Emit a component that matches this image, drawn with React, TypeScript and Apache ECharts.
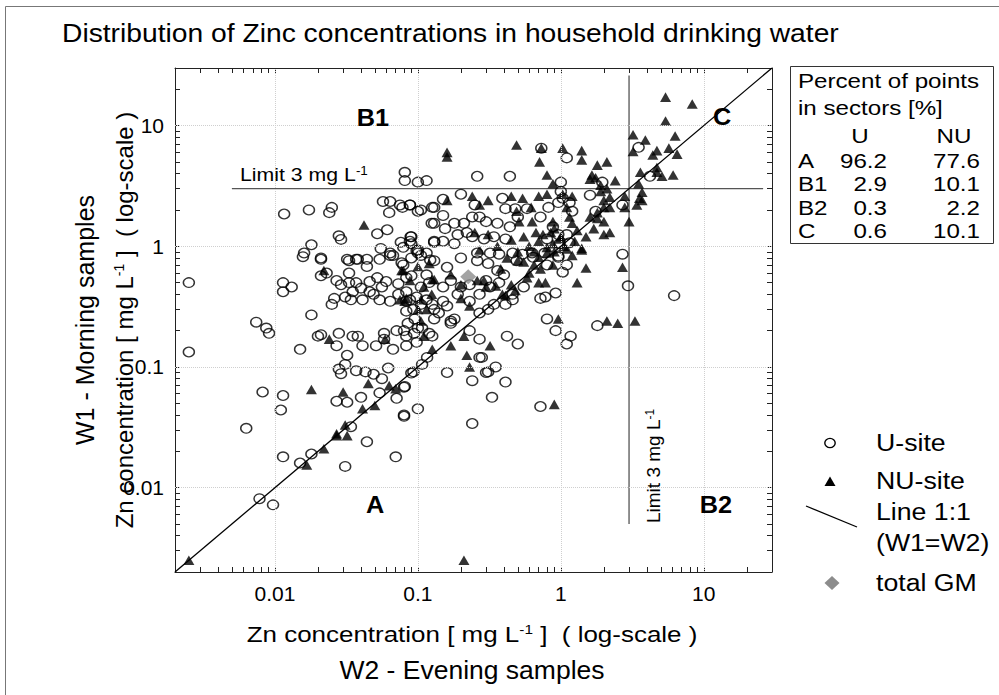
import React, { useEffect, useRef } from 'react';
import * as echarts from 'echarts';

const FONT = '"Liberation Sans", Arial, sans-serif';

const AXIS_MIN = 0.002;
const AXIS_MAX = 30;
const decadeLabels = [0.01, 0.1, 1, 10];
const tickValues = [
  0.002, 0.003, 0.004, 0.005, 0.006, 0.007, 0.008, 0.009,
  0.01, 0.02, 0.03, 0.04, 0.05, 0.06, 0.07, 0.08, 0.09,
  0.1, 0.2, 0.3, 0.4, 0.5, 0.6, 0.7, 0.8, 0.9,
  1, 2, 3, 4, 5, 6, 7, 8, 9,
  10, 20, 30,
];
const limitValue = 3;
const limitSpan = [0.005, 26];
const oneToOne = [0.002, 30];
const gmPoint: [number, number] = [0.225, 0.56];

const sectorNames = ['A', 'B1', 'B2', 'C'];
const pctU = ['96.2', '2.9', '0.3', '0.6'];
const pctNU = ['77.6', '10.1', '2.2', '10.1'];

const uSite: [number, number][] = [
  [0.0025, 0.5], [0.0025, 0.133],
  [0.081, 4.1], [0.081, 3.5], [0.1, 3.4], [0.115, 3.5],
  [0.0116, 1.85], [0.0173, 2.0], [0.025, 2.1], [0.024, 1.9],
  [0.057, 2.35], [0.064, 2.35], [0.063, 1.9], [0.078, 2.1], [0.088, 2.2], [0.1, 1.95], [0.126, 2.1], [0.125, 1.55],
  [0.052, 1.27], [0.061, 1.37], [0.028, 1.22], [0.029, 1.14], [0.076, 1.08], [0.089, 1.2], [0.09, 1.05], [0.13, 1.08],
  [0.055, 0.96], [0.064, 0.88], [0.067, 0.84], [0.1, 0.93], [0.018, 1.03], [0.016, 0.88], [0.021, 0.8], [0.032, 0.78], [0.037, 0.78], [0.044, 0.78],
  [0.0157, 0.82], [0.021, 0.78], [0.021, 0.57], [0.023, 0.6],
  [0.0114, 0.5], [0.0131, 0.46], [0.0114, 0.42],
  [0.0074, 0.235], [0.0087, 0.21], [0.0091, 0.19],
  [0.018, 0.27], [0.015, 0.14], [0.02, 0.18], [0.021, 0.185], [0.028, 0.19], [0.027, 0.15], [0.032, 0.125],
  [0.031, 0.105], [0.028, 0.096], [0.029, 0.088], [0.037, 0.093], [0.043, 0.091], [0.049, 0.087], [0.062, 0.098], [0.056, 0.08],
  [0.0082, 0.062], [0.0114, 0.058], [0.011, 0.044], [0.027, 0.052], [0.032, 0.051], [0.04, 0.056], [0.054, 0.061], [0.071, 0.055], [0.081, 0.069], [0.08, 0.04], [0.1, 0.045],
  [0.0063, 0.031], [0.034, 0.032], [0.044, 0.024], [0.093, 0.091], [0.107, 0.105], [0.116, 0.12],
  [0.033, 0.76], [0.038, 0.78], [0.044, 0.68], [0.054, 0.78], [0.064, 0.84], [0.077, 0.73], [0.09, 0.8], [0.098, 0.92], [0.122, 0.77],
  [0.027, 0.52], [0.029, 0.48], [0.033, 0.5], [0.037, 0.5], [0.046, 0.51], [0.052, 0.55], [0.06, 0.51], [0.073, 0.49], [0.083, 0.55],
  [0.033, 0.6], [0.026, 0.37], [0.025, 0.33], [0.031, 0.38], [0.034, 0.36], [0.041, 0.36], [0.049, 0.4], [0.056, 0.46], [0.054, 0.36],
  [0.064, 0.35], [0.073, 0.4], [0.083, 0.35], [0.098, 0.38], [0.115, 0.36], [0.126, 0.33],
  [0.035, 0.42], [0.04, 0.45], [0.046, 0.42], [0.035, 0.18], [0.041, 0.15], [0.051, 0.15], [0.058, 0.17], [0.058, 0.19], [0.071, 0.2],
  [0.083, 0.18], [0.098, 0.16], [0.083, 0.15], [0.067, 0.14], [0.093, 0.3], [0.107, 0.21], [0.126, 0.18], [0.038, 0.18],
  [0.0078, 0.0081], [0.0097, 0.0072], [0.0114, 0.018], [0.015, 0.016], [0.018, 0.019], [0.031, 0.015], [0.07, 0.018],
  [0.24, 0.077], [0.24, 0.034], [0.31, 0.091], [0.35, 0.1], [0.28, 0.12], [0.16, 0.09], [0.08, 0.039], [0.08, 0.068], [0.09, 0.089],
  [0.33, 0.056], [0.41, 0.075],
  [0.27, 0.12], [0.3, 0.09], [0.27, 0.17], [0.23, 0.2], [0.17, 0.24], [0.18, 0.25], [0.14, 0.28],
  [2.7, 0.86], [2.95, 0.47], [6.2, 0.39], [1.8, 0.22], [0.92, 0.41], [0.72, 0.37], [0.78, 0.38], [0.8, 0.25], [0.92, 0.2],
  [1.17, 0.18], [1.1, 0.155], [0.42, 0.18], [0.5, 0.155], [0.72, 0.047],
  [0.079, 0.7], [0.09, 0.57], [0.115, 0.58], [0.12, 0.5], [0.105, 0.46], [0.083, 0.42], [0.088, 0.36], [0.105, 0.33], [0.13, 0.3],
  [0.083, 0.29], [0.095, 0.25], [0.085, 0.23], [0.15, 0.35], [0.16, 0.32], [0.17, 0.52], [0.15, 0.46], [0.2, 0.46], [0.23, 0.48],
  [0.19, 0.4], [0.23, 0.35], [0.27, 0.4], [0.32, 0.46], [0.3, 0.52], [0.37, 0.5], [0.4, 0.58], [0.36, 0.63], [0.31, 0.72],
  [0.26, 0.76], [0.2, 0.8], [0.16, 0.67], [0.13, 0.76], [0.105, 0.84], [0.49, 0.76], [0.64, 0.81], [0.8, 0.7], [0.96, 0.81],
  [1.1, 0.7], [1.03, 0.61], [0.46, 0.36], [0.41, 0.33], [0.46, 0.4], [0.55, 0.46], [0.31, 0.3], [0.27, 0.28], [0.34, 0.33],
  [0.13, 0.25], [0.17, 0.23], [0.1, 0.21], [0.094, 0.19], [0.08, 0.2], [0.12, 0.19],
  [0.15, 2.45], [0.075, 2.2], [0.088, 2.2], [0.105, 2.0], [0.13, 2.1], [0.15, 1.8], [0.13, 1.55], [0.155, 1.4], [0.18, 1.55],
  [0.21, 1.55], [0.22, 1.3], [0.19, 1.25], [0.24, 1.75], [0.27, 1.75], [0.25, 2.2], [0.3, 1.6], [0.36, 1.55], [0.39, 2.5],
  [0.41, 2.05], [0.48, 2.05], [0.5, 1.75], [0.58, 2.05], [0.72, 1.75], [0.82, 2.1], [0.96, 2.3], [1.03, 2.5], [1.15, 2.3],
  [1.2, 1.95], [0.88, 1.45], [0.8, 1.15], [0.96, 1.25], [1.1, 1.25], [1.15, 1.07], [0.98, 1.05], [0.44, 1.45], [0.41, 1.15],
  [0.34, 1.2], [0.29, 1.15], [0.24, 1.2], [0.18, 1.05], [0.15, 1.1], [0.13, 1.1], [0.115, 0.88], [0.1, 0.88], [0.088, 1.1],
  [0.09, 1.2], [0.079, 0.98], [0.26, 0.88], [0.32, 0.88], [0.37, 0.86], [0.46, 0.88], [0.54, 0.86], [0.63, 0.88], [0.77, 0.88],
  [0.96, 0.83],
  [0.26, 3.8], [0.44, 3.8], [0.2, 2.7], [1.6, 2.65], [1.0, 2.85], [1.75, 1.95], [3.5, 6.6], [4.2, 3.8], [0.73, 6.5], [1.1, 5.4],
  [1.0, 3.4], [1.95, 3.4], [2.7, 2.2],
];

const nuSite: [number, number][] = [
  [0.16, 6.0], [0.16, 5.5], [0.49, 6.9], [0.73, 6.5], [1.03, 6.5], [1.4, 6.2], [1.4, 5.2], [0.71, 5.0], [1.8, 4.7], [2.1, 5.0],
  [1.65, 3.9], [1.6, 3.6], [1.75, 3.7], [2.4, 3.5], [2.1, 3.0], [1.9, 3.2], [0.8, 3.9], [0.88, 3.3],
  [5.4, 17.2], [8.3, 15.1], [5.4, 10.9], [6.3, 8.2], [3.2, 8.4], [3.9, 7.6], [3.2, 6.1], [4.7, 6.2], [4.4, 5.7], [5.7, 6.5],
  [6.5, 5.8], [4.7, 4.5], [5.1, 3.8], [6.1, 3.9], [4.7, 4.1], [3.6, 4.1], [3.5, 3.3],
  [3.7, 2.8], [3.55, 2.5], [3.7, 2.4], [3.4, 2.2], [3.0, 1.6], [2.8, 2.6], [2.8, 2.1],
  [0.042, 1.5],
  [0.16, 2.4], [0.24, 2.6], [0.27, 2.2], [0.31, 2.4], [0.45, 2.6], [0.54, 2.5], [0.62, 2.1], [0.7, 2.6], [0.8, 2.7], [1.03, 2.7],
  [1.2, 2.6], [1.9, 2.85], [2.0, 2.4], [2.2, 2.55], [2.0, 2.1], [2.2, 2.1], [1.8, 1.9], [1.6, 1.75], [1.8, 1.7], [2.0, 1.6],
  [2.0, 1.25], [2.2, 1.3], [1.4, 0.96],
  [0.49, 1.95], [0.51, 1.6], [0.63, 1.6], [0.67, 1.3], [0.88, 1.6], [0.9, 1.4], [1.1, 2.1], [1.15, 1.75], [1.2, 1.55],
  [0.98, 1.15], [1.05, 1.0], [0.88, 1.05], [0.8, 0.98], [0.45, 1.13], [0.36, 1.0], [0.31, 1.25], [0.27, 0.93], [0.25, 1.3],
  [0.55, 1.2], [0.6, 1.0], [0.65, 0.9], [0.7, 1.1], [0.75, 1.25], [0.85, 1.3], [0.6, 0.6], [0.65, 0.7], [0.72, 0.65],
  [0.9, 0.9], [1.0, 1.2], [1.1, 0.95], [1.25, 1.1], [1.3, 1.35], [0.5, 0.9], [0.42, 0.8], [0.38, 0.65], [0.58, 0.55],
  [1.5, 1.2], [1.7, 1.4],
  [2.7, 0.67], [1.3, 0.5], [1.5, 0.66], [0.7, 0.5], [0.78, 0.5], [0.96, 0.25], [2.1, 0.24], [2.5, 0.23], [3.3, 0.24],
  [0.9, 0.049], [0.21, 0.0025],
  [0.22, 0.125], [0.23, 0.1], [0.17, 0.15], [0.21, 0.18], [0.32, 0.15],
  [0.1, 0.68], [0.12, 0.72], [0.17, 0.58], [0.13, 0.53], [0.2, 0.48], [0.2, 0.37], [0.23, 0.32], [0.26, 0.52], [0.29, 0.52],
  [0.3, 0.46], [0.35, 0.47], [0.39, 0.4], [0.45, 0.48], [0.48, 0.43], [0.41, 0.39], [0.5, 0.76], [0.55, 0.74], [0.7, 0.81],
  [0.8, 0.88], [0.88, 0.7], [1.2, 0.84], [1.4, 0.93], [0.083, 0.37], [0.105, 0.36], [0.115, 0.3], [0.105, 0.24], [0.075, 0.36],
  [0.079, 0.63],
  [0.022, 0.63], [0.024, 0.17], [0.018, 0.065], [0.03, 0.062], [0.045, 0.073], [0.063, 0.07], [0.041, 0.045], [0.031, 0.033],
  [0.027, 0.028], [0.032, 0.027], [0.022, 0.021], [0.077, 0.63], [0.05, 0.048], [0.07, 0.066],
  [0.081, 0.35], [0.088, 0.52], [0.1, 0.3], [0.11, 0.46], [0.125, 0.4], [0.11, 0.18], [0.126, 0.53], [0.059, 0.17], [0.126, 0.14],
  [0.0025, 0.0025], [0.0167, 0.0154], [0.027, 0.027],
];

function txt(x: number, y: number, text: string, o: any = {}) {
  return {
    type: 'text',
    x,
    y,
    rotation: o.rotation || 0,
    scaleX: o.scaleX || 1,
    z: 10,
    style: {
      text,
      fontFamily: FONT,
      fontSize: o.fontSize || 22,
      fontWeight: o.fontWeight || 'normal',
      fill: '#000',
      align: o.align || 'left',
      verticalAlign: 'middle',
      rich: o.rich,
    },
  };
}

export default function App() {
  const ref = useRef<HTMLDivElement>(null);

  useEffect(() => {
    if (!ref.current) return;
    const chart = echarts.init(ref.current, null, { renderer: 'svg' });

    const supRich = (size: number) => ({
      sup: { fontSize: size, fontFamily: FONT, verticalAlign: 'top', fill: '#000' },
    });

    const axisCommon = {
      type: 'log',
      logBase: 10,
      min: AXIS_MIN,
      max: AXIS_MAX,
      axisLine: { show: true, onZero: false, lineStyle: { color: '#222', width: 1 } },
      axisTick: { show: true, inside: true, length: 5, customValues: tickValues, lineStyle: { color: '#222', width: 1 } },
      splitLine: { show: false },
      minorTick: { show: false },
    };

    const tableGraphics: any[] = [
      {
        type: 'rect',
        shape: { x: 790.5, y: 66.5, width: 203, height: 177 },
        style: { fill: '#fff', stroke: '#333', lineWidth: 1 },
        z: 9,
      },
      txt(798, 81, 'Percent of points', { fontSize: 21, scaleX: 1.15 }),
      txt(798, 108, 'in sectors [%]', { fontSize: 21, scaleX: 1.15 }),
      txt(860, 136, 'U', { fontSize: 21, scaleX: 1.15, align: 'center' }),
      txt(954, 136, 'NU', { fontSize: 21, scaleX: 1.15, align: 'center' }),
    ];
    sectorNames.forEach((name, i) => {
      const y = 161 + i * 23.5;
      tableGraphics.push(txt(798, y, name, { fontSize: 21, scaleX: 1.15 }));
      tableGraphics.push(txt(887, y, pctU[i], { fontSize: 21, scaleX: 1.15, align: 'right' }));
      tableGraphics.push(txt(980, y, pctNU[i], { fontSize: 21, scaleX: 1.15, align: 'right' }));
    });

    const legendGraphics: any[] = [
      { type: 'ellipse', shape: { cx: 830, cy: 443, rx: 5.2, ry: 4.6 }, style: { fill: 'none', stroke: '#000', lineWidth: 1.4 }, z: 10 },
      txt(876, 443, 'U-site', { fontSize: 23, scaleX: 1.16 }),
      { type: 'polygon', shape: { points: [[830, 476.5], [824.5, 486], [835.5, 486]] }, style: { fill: '#000' }, z: 10 },
      txt(876, 481, 'NU-site', { fontSize: 23, scaleX: 1.16 }),
      { type: 'line', shape: { x1: 806, y1: 506, x2: 857, y2: 527 }, style: { stroke: '#000', lineWidth: 1.3 }, z: 10 },
      txt(876, 512, 'Line 1:1', { fontSize: 23, scaleX: 1.16 }),
      txt(876, 543, '(W1=W2)', { fontSize: 23, scaleX: 1.16 }),
      { type: 'polygon', shape: { points: [[832, 576], [839.5, 583], [832, 590], [824.5, 583]] }, style: { fill: '#8c8c8c' }, z: 10 },
      txt(876, 583, 'total GM', { fontSize: 23, scaleX: 1.16 }),
    ];

    const option: any = {
      animation: false,
      backgroundColor: '#fff',
      grid: { left: 175, top: 68, right: 227, bottom: 123, containLabel: false },
      xAxis: [
        {
          ...axisCommon,
          position: 'bottom',
          axisLabel: {
            customValues: decadeLabels,
            fontFamily: FONT,
            fontSize: 21,
            color: '#000',
            margin: 11,
            formatter: (v: number) => String(v),
          },
        },
        { ...axisCommon, position: 'top', axisLabel: { show: false } },
      ],
      yAxis: [
        {
          ...axisCommon,
          position: 'left',
          axisLabel: {
            customValues: decadeLabels,
            fontFamily: FONT,
            fontSize: 21,
            color: '#000',
            margin: 11,
            formatter: (v: number) => String(v),
          },
        },
        { ...axisCommon, position: 'right', axisLabel: { show: false } },
      ],
      series: [
        {
          name: 'grid',
          type: 'line',
          data: [],
          silent: true,
          markLine: {
            silent: true,
            symbol: 'none',
            label: { show: false },
            lineStyle: { color: '#cfcfcf', type: 'dotted', width: 1 },
            data: [
              ...decadeLabels.map((v) => ({ xAxis: v })),
              ...decadeLabels.map((v) => ({ yAxis: v })),
            ],
          },
        },
        {
          name: 'Limit vertical',
          type: 'line',
          data: limitSpan.map((v) => [limitValue, v]),
          showSymbol: false,
          silent: true,
          lineStyle: { color: '#555', width: 1.3 },
          z: 2,
        },
        {
          name: 'Limit horizontal',
          type: 'line',
          data: limitSpan.map((v) => [v, limitValue]),
          showSymbol: false,
          silent: true,
          lineStyle: { color: '#555', width: 1.3 },
          z: 2,
        },
        {
          name: 'U-site',
          type: 'scatter',
          data: uSite,
          symbol: 'circle',
          symbolSize: [11, 9.6],
          itemStyle: { color: 'rgba(255,255,255,0)', borderColor: '#000', borderWidth: 1.4 },
          z: 3,
        },
        {
          name: 'NU-site',
          type: 'scatter',
          data: nuSite,
          symbol: 'triangle',
          symbolSize: [11, 9.6],
          itemStyle: { color: '#000' },
          z: 4,
        },
        {
          name: 'Line 1:1',
          type: 'line',
          data: oneToOne.map((v) => [v, v]),
          showSymbol: false,
          silent: true,
          lineStyle: { color: '#000', width: 1.3 },
          z: 5,
        },
        {
          name: 'total GM',
          type: 'scatter',
          data: [gmPoint],
          symbol: 'diamond',
          symbolSize: [16, 15],
          itemStyle: { color: '#8c8c8c' },
          z: 6,
        },
      ],
      graphic: [
        {
          type: 'rect',
          shape: { x: 5.5, y: 6.5, width: 1100, height: 800 },
          style: { fill: 'none', stroke: '#777', lineWidth: 1 },
          z: 0,
          silent: true,
        },
        txt(62, 34, 'Distribution of Zinc concentrations in household drinking water', { fontSize: 25, scaleX: 1.13 }),
        txt(472, 634, 'Zn concentration [ mg L{sup|-1} ]  ( log-scale )', { fontSize: 22, scaleX: 1.18, align: 'center', rich: supRich(13) }),
        txt(472, 670, 'W2 - Evening samples', { fontSize: 25, scaleX: 1.06, align: 'center' }),
        txt(124, 320, 'Zn concentration [ mg L{sup|-1} ]  ( log-scale )', { fontSize: 24, rotation: Math.PI / 2, align: 'center', rich: supRich(14) }),
        txt(85, 320, 'W1 - Morning samples', { fontSize: 25, rotation: Math.PI / 2, align: 'center' }),
        txt(240, 174, 'Limit 3 mg L{sup|-1}', { fontSize: 19, scaleX: 1.12, rich: supRich(12) }),
        txt(653, 523, 'Limit 3 mg L{sup|-1}', { fontSize: 19, rotation: Math.PI / 2, rich: supRich(12) }),
        txt(373, 118, 'B1', { fontSize: 23, fontWeight: 'bold', scaleX: 1.1, align: 'center' }),
        txt(722, 117, 'C', { fontSize: 23, fontWeight: 'bold', scaleX: 1.1, align: 'center' }),
        txt(375, 505, 'A', { fontSize: 23, fontWeight: 'bold', scaleX: 1.1, align: 'center' }),
        txt(716, 505, 'B2', { fontSize: 23, fontWeight: 'bold', scaleX: 1.1, align: 'center' }),
        ...tableGraphics,
        ...legendGraphics,
      ],
    };

    chart.setOption(option);
    return () => chart.dispose();
  }, []);

  return (
    <div
      ref={ref}
      style={{ position: 'absolute', left: 0, top: 0, width: 999, height: 695, background: '#fff' }}
    />
  );
}
